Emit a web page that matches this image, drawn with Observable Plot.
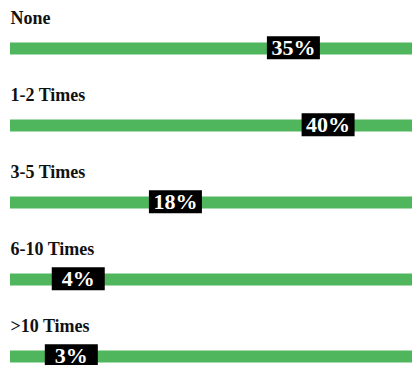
<!DOCTYPE html>
<html>
<head>
<meta charset="utf-8">
<script src="https://cdn.jsdelivr.net/npm/d3@7"></script>
<script src="https://cdn.jsdelivr.net/npm/@observablehq/plot@0.6"></script>
<style>
  html, body { margin: 0; padding: 0; background: #fff; }
  #chart svg { display: block; }
</style>
</head>
<body>
<div id="chart"></div>
<script>
// How often respondents did it: share of answers per frequency band
const categories = ["None", "1-2 Times", "3-5 Times", "6-10 Times", ">10 Times"];
const shares = [35, 40, 18, 4, 3];

const rows = categories.map((category, i) => ({category, share: shares[i]}));

const serif = "'Liberation Serif', 'Times New Roman', serif";
const green = "#50b65d";

// Fixed-size black tag drawn behind each percentage
const tag = {
  draw(context) {
    context.rect(-26.5, -11.5, 53, 23);
  }
};

const chart = Plot.plot({
  width: 412,
  height: 365,
  marginLeft: 10,
  marginRight: 0,
  marginTop: 0,
  marginBottom: 0,
  x: {type: "linear", domain: [0, 50], range: [50, 397], axis: null},
  y: {type: "point", domain: categories, range: [47, 357], padding: 0, axis: null},
  style: {background: "white"},
  marks: [
    // full-width track for each band
    Plot.ruleY(rows, {y: "category", stroke: green, strokeWidth: 12}),
    // band name above its track
    Plot.text(rows, {
      y: "category",
      text: "category",
      frameAnchor: "left",
      textAnchor: "start",
      lineAnchor: "bottom",
      dy: -24.3,
      fill: "#111",
      fontFamily: serif,
      fontWeight: "bold",
      fontSize: 18
    }),
    // black tag at the share
    Plot.dot(rows, {
      x: "share",
      y: "category",
      symbol: tag,
      r: 1,
      fill: "black",
      stroke: null,
      dy: -0.7
    }),
    Plot.text(rows, {
      x: "share",
      y: "category",
      text: d => `${d.share}%`,
      textAnchor: "middle",
      lineAnchor: "bottom",
      dy: 6.5,
      fill: "white",
      fontFamily: serif,
      fontWeight: "bold",
      fontSize: 22
    })
  ]
});

document.getElementById("chart").append(chart);
</script>
</body>
</html>
